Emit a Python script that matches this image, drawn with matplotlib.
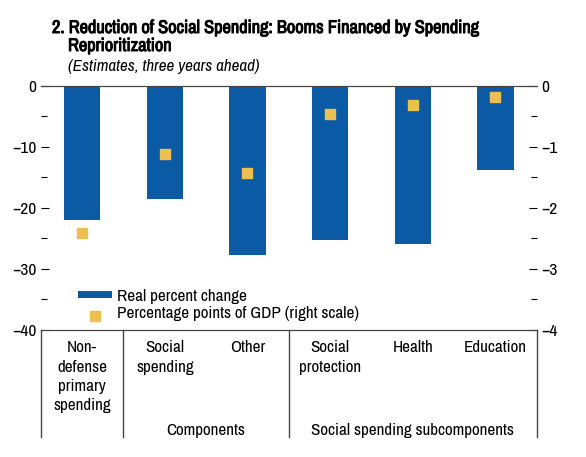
import numpy as np
import matplotlib
matplotlib.use('Agg')
import matplotlib.pyplot as plt
import matplotlib.patheffects as pe
from matplotlib import font_manager
from matplotlib.ticker import MultipleLocator

# pick a narrow face if one is installed, the original uses a condensed font
names = sorted({f.name for f in font_manager.fontManager.ttflist})
narrow = [n for n in names if 'Narrow' in n or 'Condensed' in n]
narrow.sort(key=lambda n: 0 if 'Liberation' in n else 1)
plt.rcParams['font.family'] = narrow[:1] + ['Liberation Sans', 'DejaVu Sans']
squeeze = 1.0 if narrow else 0.86

# Data
categories = ['Non-\ndefense\nprimary\nspending', 'Social\nspending', 'Other',
              'Social\nprotection', 'Health', 'Education']
real_change = [-22.0, -18.5, -27.8, -25.2, -26.0, -13.8]
pp_gdp = [-2.41, -1.12, -1.43, -0.46, -0.32, -0.19]
groups = ['Components', 'Social spending subcomponents']

blue = '#0b5aa6'
gold = '#ebc04f'
grey = '#444444'

fig = plt.figure(figsize=(5.86, 4.57), dpi=100)
ax = fig.add_axes([0.0695, 0.2779, 0.8464, 0.5346])
ax2 = ax.twinx()

x = np.arange(len(categories))
ax.bar(x, real_change, width=0.44, color=blue, label='Real percent change', zorder=2)
ax2.scatter(x, pp_gdp, marker='s', s=42, color=gold, zorder=3,
            label='Percentage points of GDP (right scale)')

ax.set_xlim(-0.5, len(categories) - 0.5)
ax.set_ylim(-40, 0)
ax2.set_ylim(-4, 0)
ax.set_xticks([])
ax2.set_xticks([])

fmt = plt.FuncFormatter(lambda v, p: '0' if v == 0 else f'\u2212{abs(v):.0f}')
for a, step, minor in ((ax, 10, 5), (ax2, 1, 0.5)):
    a.yaxis.set_major_locator(MultipleLocator(step))
    a.yaxis.set_minor_locator(MultipleLocator(minor))
    a.yaxis.set_major_formatter(fmt)
    a.tick_params(axis='y', which='major', direction='in', length=6, width=0.8,
                  labelsize=12.5 * squeeze, pad=3)
    a.tick_params(axis='y', which='minor', direction='in', length=4, width=0.8)
    a.spines['left'].set_visible(False)
    a.spines['right'].set_visible(False)
    a.spines['top'].set_color(grey)
    a.spines['bottom'].set_color(grey)
ax.tick_params(axis='y', which='both', right=False)
ax2.tick_params(axis='y', which='both', left=False)

# category box below the plot
depth = -0.438
for xa in (0.0, 1 / 6, 3 / 6, 1.0):
    ax.plot([xa, xa], [0, depth], transform=ax.transAxes, color=grey, lw=1, clip_on=False)

fs = 12.3 * squeeze
for i, c in enumerate(categories):
    ax.text((i + 0.5) / 6, -0.042, c, transform=ax.transAxes, ha='center', va='top',
            fontsize=fs, linespacing=1.36)
ax.text(2 / 6, depth - 0.004, groups[0], transform=ax.transAxes, ha='center',
        va='bottom', fontsize=fs)
ax.text(4.5 / 6, depth - 0.004, groups[1], transform=ax.transAxes, ha='center',
        va='bottom', fontsize=fs)

# legend
h1, l1 = ax.get_legend_handles_labels()
h2, l2 = ax2.get_legend_handles_labels()
ax2.legend(h1 + h2, l1 + l2, loc='lower left', bbox_to_anchor=(0.075, 0.035),
           frameon=False, fontsize=fs, handlelength=2.0, handleheight=0.3,
           handletextpad=0.3, labelspacing=0.15, borderaxespad=0, borderpad=0)

# titles (stroke thickens the narrow face, which has no bold file here)
bold = [pe.withStroke(linewidth=0.7, foreground='black')]
tfs = 13.2 * squeeze
fig.text(52 / 586, 1 - 28 / 457, '2. Reduction of Social Spending: Booms Financed by Spending',
         fontsize=tfs, fontweight='bold', va='center', path_effects=bold)
fig.text(68 / 586, 1 - 46 / 457, 'Reprioritization', fontsize=tfs, fontweight='bold',
         va='center', path_effects=bold)
fig.text(68 / 586, 1 - 66 / 457, '(Estimates, three years ahead)', fontsize=fs,
         style='italic', va='center')

fig.savefig('out.png', dpi=100)
